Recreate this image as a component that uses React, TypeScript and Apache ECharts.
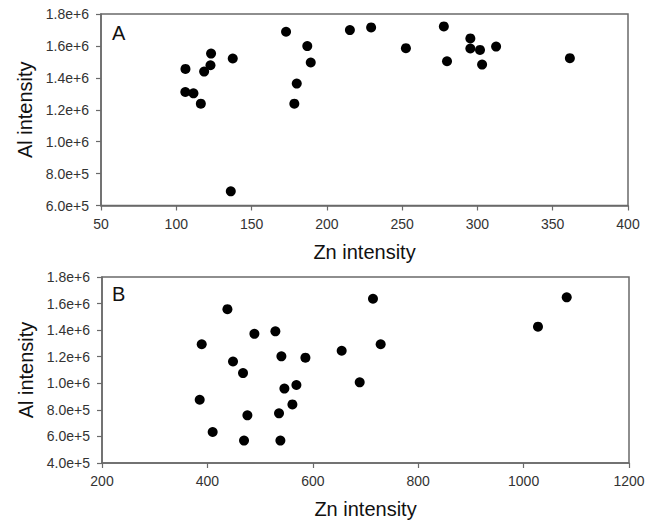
import React, { useEffect, useRef } from "react";
import * as echarts from "echarts";

const aZn = [106.1, 106, 111.4, 116.3, 118.5, 122.7, 123.1, 137.5, 136.2, 172.9, 187.0, 189.3, 180.0, 178.4, 215.3, 229.4, 252.5, 277.7, 279.8, 295.3, 295.3, 301.7, 303.1, 312.4, 361.4];
const aAl = [1.456e6, 1.311e6, 1.303e6, 1.238e6, 1.439e6, 1.479e6, 1.552e6, 1.521e6, 0.689e6, 1.689e6, 1.599e6, 1.496e6, 1.364e6, 1.238e6, 1.699e6, 1.716e6, 1.586e6, 1.722e6, 1.504e6, 1.647e6, 1.584e6, 1.575e6, 1.483e6, 1.596e6, 1.523e6];

const bZn = [438, 389.2, 489.2, 529, 448.6, 540.4, 586, 654.8, 467.6, 568.9, 546.1, 385.4, 561.3, 475.9, 535.9, 410, 469.5, 538.5, 714.2, 728.8, 689, 1027.3, 1081.8];
const bAl = [1.558e6, 1.294e6, 1.372e6, 1.391e6, 1.164e6, 1.203e6, 1.193e6, 1.245e6, 1.077e6, 0.987e6, 0.960e6, 0.876e6, 0.841e6, 0.759e6, 0.774e6, 0.633e6, 0.569e6, 0.569e6, 1.636e6, 1.294e6, 1.007e6, 1.426e6, 1.647e6];

const panelLabels = ["A", "B"];
const xAxisName = "Zn intensity";
const yAxisName = "Al intensity";
const xRangeA = [50, 400, 50];
const xRangeB = [200, 1200, 200];
const yRangeA = [6e5, 1.8e6, 2e5];
const yRangeB = [4e5, 1.8e6, 2e5];

const FONT = "'Liberation Sans', Arial, sans-serif";
const AXIS_COLOR = "#6a6a6a";

function makeX(idx: number, r: number[]) {
  return {
    type: "value",
    gridIndex: idx,
    min: r[0],
    max: r[1],
    interval: r[2],
    name: xAxisName,
    nameLocation: "middle",
    nameGap: 36,
    nameTextStyle: { fontFamily: FONT, fontSize: 20, color: "#111" },
    axisLine: { show: true, lineStyle: { color: AXIS_COLOR, width: 1.5 } },
    axisTick: { show: true, inside: false, length: 5, lineStyle: { color: AXIS_COLOR, width: 1.2 } },
    axisLabel: {
      fontFamily: FONT,
      fontSize: 14,
      color: "#333",
      margin: 11,
      formatter: (v: number) => String(v),
    },
    splitLine: { show: false },
  };
}

function makeY(idx: number, r: number[]) {
  return {
    type: "value",
    gridIndex: idx,
    min: r[0],
    max: r[1],
    interval: r[2],
    name: yAxisName,
    nameLocation: "middle",
    nameGap: 66,
    nameTextStyle: { fontFamily: FONT, fontSize: 20, color: "#111" },
    axisLine: { show: true, lineStyle: { color: AXIS_COLOR, width: 1.5 } },
    axisTick: { show: true, inside: false, length: 5, lineStyle: { color: AXIS_COLOR, width: 1.2 } },
    axisLabel: {
      fontFamily: FONT,
      fontSize: 14,
      color: "#333",
      margin: 12,
      formatter: (v: number) => v.toExponential(1),
    },
    splitLine: { show: false },
  };
}

export default function App() {
  const ref = useRef<HTMLDivElement>(null);
  useEffect(() => {
    if (!ref.current) return;
    const chart = echarts.init(ref.current, null, { renderer: "svg" });
    chart.setOption({
      animation: false,
      backgroundColor: "#fff",
      grid: [
        { left: 101, top: 14, width: 527, height: 191.5, show: true, borderColor: AXIS_COLOR, borderWidth: 1.5 },
        { left: 102, top: 277, width: 527, height: 188, show: true, borderColor: AXIS_COLOR, borderWidth: 1.5 },
      ],
      xAxis: [makeX(0, xRangeA), makeX(1, xRangeB)],
      yAxis: [makeY(0, yRangeA), makeY(1, yRangeB)],
      series: [
        {
          type: "scatter",
          xAxisIndex: 0,
          yAxisIndex: 0,
          symbol: "circle",
          symbolSize: 10,
          itemStyle: { color: "#000", opacity: 1 },
          data: aZn.map((x, i) => [x, aAl[i]]),
        },
        {
          type: "scatter",
          xAxisIndex: 1,
          yAxisIndex: 1,
          symbol: "circle",
          symbolSize: 10,
          itemStyle: { color: "#000", opacity: 1 },
          data: bZn.map((x, i) => [x, bAl[i]]),
        },
      ],
      graphic: [
        { type: "text", left: 112, top: 23, style: { text: panelLabels[0], font: `20px ${FONT}`, fill: "#111" } },
        { type: "text", left: 112, top: 284, style: { text: panelLabels[1], font: `20px ${FONT}`, fill: "#111" } },
      ],
    });
    return () => chart.dispose();
  }, []);
  return <div ref={ref} style={{ position: "fixed", left: 0, top: 0, width: 657, height: 520 }} />;
}
